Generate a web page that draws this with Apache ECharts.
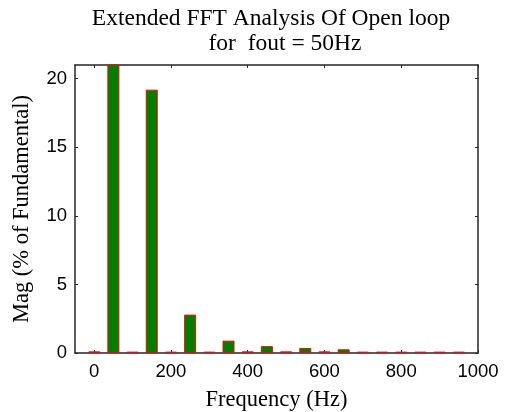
<!DOCTYPE html>
<html>
<head>
<meta charset="utf-8">
<script src="https://cdn.jsdelivr.net/npm/echarts@6/dist/echarts.min.js"></script>
<style>
  html, body { margin: 0; padding: 0; background: #fff; }
  #chart { width: 505px; height: 412px; }
</style>
</head>
<body>
<div id="chart"></div>
<script>
// Harmonic frequencies (Hz) and their magnitudes (% of fundamental)
const freqs = [0, 50, 100, 150, 200, 250, 300, 350, 400, 450,
               500, 550, 600, 650, 700, 750, 800, 850, 900, 950];
const mags = [0.12, 100, 0.1, 19.2, 0.1, 2.8, 0.1, 0.9, 0.12, 0.5,
              0.12, 0.37, 0.12, 0.27, 0.1, 0.1, 0.1, 0.1, 0.1, 0.1];
const xTicks = [0, 200, 400, 600, 800, 1000];
const yTicks = [0, 5, 10, 15, 20];
const titleLines = ['Extended FFT Analysis Of Open loop', 'for  fout = 50Hz'];

const serif = '"Liberation Serif", "Times New Roman", serif';
const sans = '"Liberation Sans", Arial, sans-serif';
const axisColor = '#262626';

const chart = echarts.init(document.getElementById('chart'), null, { renderer: 'canvas' });

const frameAxis = {
  axisLine: { show: true, onZero: false, lineStyle: { color: axisColor, width: 1.5 } },
  splitLine: { show: false }
};
const plainNumber = v => String(v);

chart.setOption({
  animation: false,
  backgroundColor: '#fff',
  grid: { left: 75, right: 27, top: 65, bottom: 59, containLabel: false, outerBoundsMode: 'none' },
  graphic: [
    { type: 'text', x: 271, y: 19, style: { text: titleLines[0], font: '23.5px ' + serif, fill: '#000', align: 'center', verticalAlign: 'middle' } },
    { type: 'text', x: 285, y: 44, style: { text: titleLines[1], font: '23.5px ' + serif, fill: '#000', align: 'center', verticalAlign: 'middle' } }
  ],
  xAxis: [
    Object.assign({
      type: 'value', min: -50, max: 1000, position: 'bottom',
      name: 'Frequency (Hz)', nameLocation: 'middle', nameGap: 36,
      nameTextStyle: { fontFamily: serif, fontSize: 22.5, color: '#000' },
      axisTick: { show: true, inside: true, length: 3, customValues: xTicks, lineStyle: { color: axisColor } },
      axisLabel: { show: true, customValues: xTicks, formatter: plainNumber, fontFamily: sans, fontSize: 18.5, color: '#000', margin: 9 }
    }, frameAxis),
    Object.assign({
      type: 'value', min: -50, max: 1000, position: 'top',
      axisTick: { show: true, inside: true, length: 3, customValues: xTicks, lineStyle: { color: axisColor } },
      axisLabel: { show: false }
    }, frameAxis)
  ],
  yAxis: [
    Object.assign({
      type: 'value', min: 0, max: 21, position: 'left',
      name: 'Mag (% of Fundamental)', nameLocation: 'middle', nameGap: 41,
      nameTextStyle: { fontFamily: serif, fontSize: 22.5, color: '#000' },
      axisTick: { show: true, inside: true, length: 3, customValues: yTicks, lineStyle: { color: axisColor } },
      axisLabel: { show: true, customValues: yTicks, formatter: plainNumber, fontFamily: sans, fontSize: 18.5, color: '#000', margin: 8 }
    }, frameAxis),
    Object.assign({
      type: 'value', min: 0, max: 21, position: 'right',
      axisTick: { show: true, inside: true, length: 3, customValues: yTicks, lineStyle: { color: axisColor } },
      axisLabel: { show: false }
    }, frameAxis)
  ],
  series: [{
    type: 'bar',
    xAxisIndex: 0,
    yAxisIndex: 0,
    barWidth: 12,
    clip: true,
    data: freqs.map((f, i) => [f, mags[i]]),
    itemStyle: { color: '#008000', borderColor: '#ff0000', borderWidth: 1 }
  }]
});
</script>
</body>
</html>
